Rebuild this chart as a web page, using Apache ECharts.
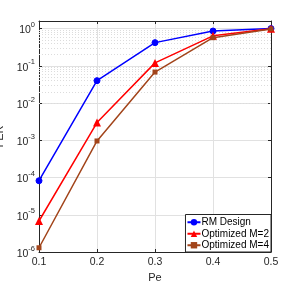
<!DOCTYPE html>
<html><head><meta charset="utf-8">
<script src="https://cdn.jsdelivr.net/npm/echarts@6/dist/echarts.min.js"></script>
<style>html,body{margin:0;padding:0;background:#fff}#c{width:299px;height:283px}</style>
</head><body><div id="c"></div>
<script>
const categories = [0.1, 0.2, 0.3, 0.4, 0.5];
const rmDesign = [8.2e-5, 0.040, 0.42, 0.86, 1.0];
const optM2 = [6.8e-6, 3.0e-3, 0.12, 0.64, 0.99];
const optM4 = [1.3e-6, 9.6e-4, 0.068, 0.57, 0.98];
const seriesNames = ['RM Design', 'Optimized M=2', 'Optimized M=4'];
const xTicks = [0.1, 0.2, 0.3, 0.4, 0.5];
const yDecades = [-6, -5, -4, -3, -2, -1, 0];

const font = 'Liberation Sans, Arial, Helvetica, sans-serif';
const axisColor = '#262626';
const pair = arr => arr.map((v, i) => [categories[i], v]);

const minorVals = [];
yDecades.forEach(d => { if (d < 0) for (let k = 2; k <= 9; k++) minorVals.push(k * Math.pow(10, d)); });

const supLabel = v => {
  const l = Math.log10(v);
  if (Math.abs(l - Math.round(l)) > 1e-6) return '';
  return '{b|10}{s|' + Math.round(l) + '}';
};

const chart = echarts.init(document.getElementById('c'), null, {renderer: 'canvas'});
chart.setOption({
  animation: false,
  backgroundColor: '#fff',
  textStyle: {fontFamily: font},
  grid: {left: 39, right: 28, top: 21, bottom: 31, containLabel: false, outerBoundsMode: 'none'},
  xAxis: [{
    type: 'value', min: 0.1, max: 0.5, interval: 0.1,
    name: 'Pe', nameLocation: 'middle', nameGap: 17,
    nameTextStyle: {color: axisColor, fontSize: 11, fontFamily: font},
    axisLine: {show: true, onZero: false, lineStyle: {color: axisColor, width: 1}},
    axisTick: {show: true, inside: true, length: 3, lineStyle: {color: axisColor}},
    axisLabel: {color: axisColor, fontSize: 10.5, fontFamily: font, margin: 5,
      formatter: v => (xTicks.some(t => Math.abs(t - v) < 1e-9) ? v.toFixed(1) : '')},
    splitLine: {show: true, lineStyle: {color: '#e1e1e1', width: 1}}
  }, {
    type: 'value', min: 0.1, max: 0.5, interval: 0.1, position: 'top',
    axisLine: {show: true, onZero: false, lineStyle: {color: axisColor, width: 1}},
    axisTick: {show: true, inside: true, length: 3, lineStyle: {color: axisColor}},
    axisLabel: {show: false}, splitLine: {show: false}
  }],
  yAxis: [{
    type: 'log', logBase: 10, min: 1e-6, max: 1.6,
    name: 'FER', nameLocation: 'middle', nameGap: 31,
    nameTextStyle: {color: axisColor, fontSize: 11, fontFamily: font},
    axisLine: {show: true, onZero: false, lineStyle: {color: axisColor, width: 1}},
    axisTick: {show: true, inside: true, length: 3, lineStyle: {color: axisColor}},
    axisLabel: {color: axisColor, fontSize: 10.5, fontFamily: font, margin: 4,
      formatter: supLabel,
      rich: {b: {fontSize: 10.5, fontFamily: font, color: axisColor, padding: [4, 0, 0, 0]},
             s: {fontSize: 7.5, fontFamily: font, color: axisColor, verticalAlign: 'top', padding: [0, 0, 6, 0]}}},
    splitLine: {show: true, lineStyle: {color: '#e1e1e1', width: 1}}
  }, {
    type: 'log', logBase: 10, min: 1e-6, max: 1.6, position: 'right',
    axisLine: {show: true, onZero: false, lineStyle: {color: axisColor, width: 1}},
    axisTick: {show: true, inside: true, length: 3, lineStyle: {color: axisColor}},
    axisLabel: {show: false}, splitLine: {show: false}
  }],
  legend: {
    orient: 'vertical', right: 28, bottom: 31,
    backgroundColor: '#fff', borderColor: axisColor, borderWidth: 1,
    padding: [2, 2, 1, 1], itemGap: 0, itemWidth: 13, itemHeight: 8,
    textStyle: {fontSize: 10, fontFamily: font, color: '#000', lineHeight: 11.5, padding: [0, 0, 0, -4]},
    data: seriesNames
  },
  series: [
    {type: 'line', data: [], silent: true, z: 1,
     markLine: {silent: true, symbol: 'none', label: {show: false},
       lineStyle: {color: '#dcdcdc', type: [1, 2], width: 1},
       data: minorVals.map(v => ({yAxis: v}))}},
    {name: seriesNames[0], type: 'line', data: pair(rmDesign), color: '#0000ff',
     lineStyle: {width: 1.5}, symbol: 'circle', symbolSize: 6,
     itemStyle: {color: '#0000ff', borderColor: '#0000ff'}, z: 5},
    {name: seriesNames[1], type: 'line', data: pair(optM2), color: '#ff0000',
     lineStyle: {width: 1.5}, symbol: 'triangle', symbolSize: 8,
     itemStyle: {color: '#ff0000'}, z: 6},
    {name: seriesNames[2], type: 'line', data: pair(optM4), color: '#a2441a',
     lineStyle: {width: 1.5}, symbol: 'rect', symbolSize: 5,
     itemStyle: {color: '#a2441a'}, z: 7}
  ]
});
</script></body></html>
